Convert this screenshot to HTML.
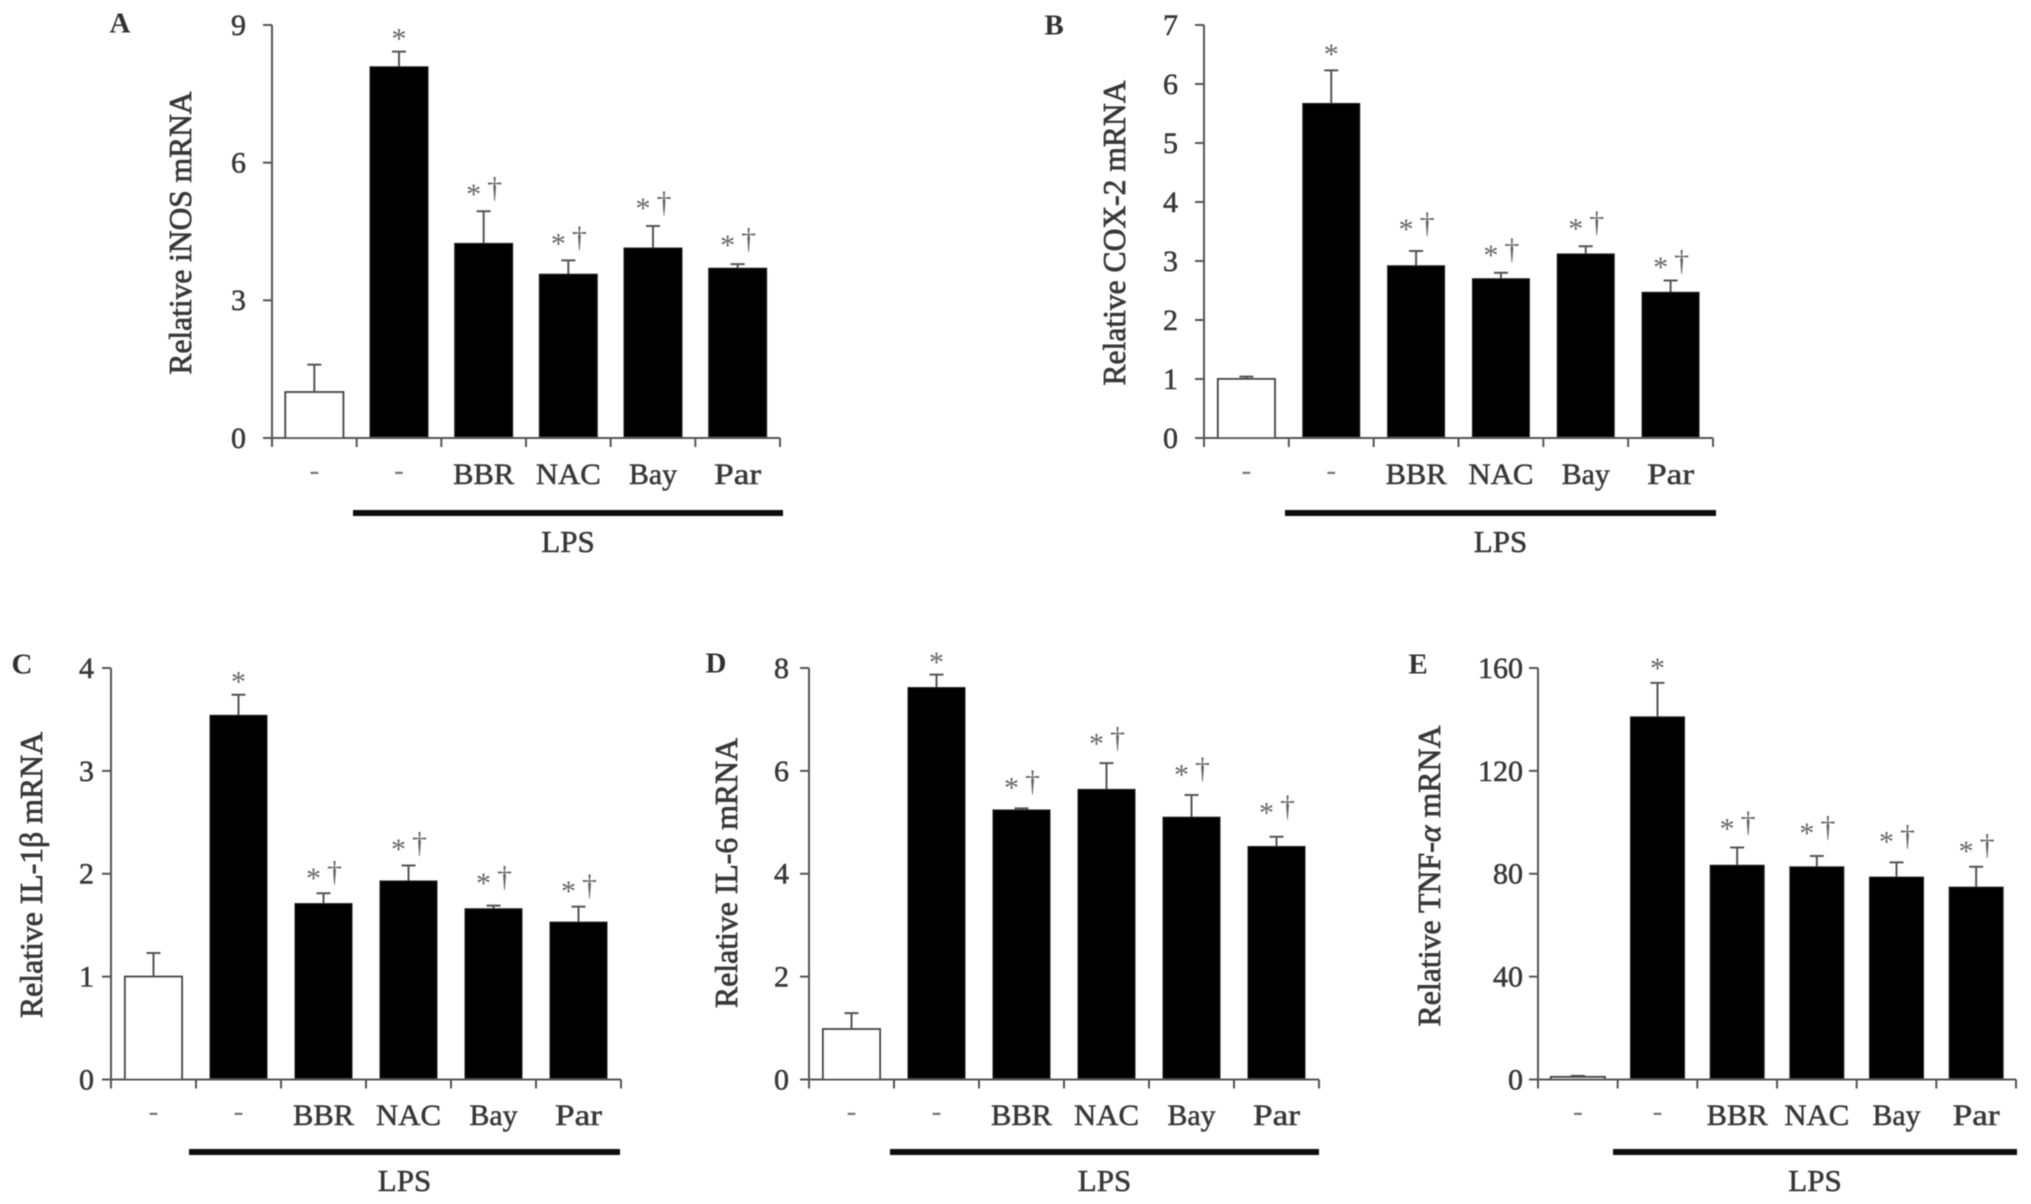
<!DOCTYPE html>
<html lang="en">
<head>
<meta charset="utf-8">
<title>Relative mRNA expression panels</title>
<style>
  html, body { margin: 0; padding: 0; background: #fff; }
  #figure { display: block; width: 2031px; height: 1204px; }
  text { font-family: "Liberation Serif", "DejaVu Serif", serif; }
</style>
</head>
<body>
<svg id="figure" xmlns="http://www.w3.org/2000/svg" width="2031" height="1204" viewBox="0 0 2031 1204">
  <defs>
    <filter id="soft" x="0" y="0" width="100%" height="100%" filterUnits="userSpaceOnUse" primitiveUnits="userSpaceOnUse">
      <feGaussianBlur stdDeviation="0.6"/>
    </filter>
  </defs>
  <rect x="0" y="0" width="2031" height="1204" fill="#fff"/>
  <g id="root" filter="url(#soft)"></g>
</svg>
<script>
// Shared categories
const categories = ['-', '-', 'BBR', 'NAC', 'Bay', 'Par'];
const groupLabel = 'LPS';

// Panel A: iNOS
const ticksA = [0, 3, 6, 9];
const valuesA = [1.0, 8.09, 4.24, 3.57, 4.14, 3.70];
const errorsA = [1.60, 8.42, 4.94, 3.87, 4.62, 3.79];
const marksA = [8.80, 5.41, 4.33, 5.10, 4.30];

// Panel B: COX-2
const ticksB = [0, 1, 2, 3, 4, 5, 6, 7];
const valuesB = [1.0, 5.67, 2.92, 2.70, 3.12, 2.47];
const errorsB = [1.04, 6.23, 3.17, 2.80, 3.25, 2.67];
const marksB = [6.58, 3.61, 3.17, 3.62, 2.97];

// Panel C: IL-1 beta
const ticksC = [0, 1, 2, 3, 4];
const valuesC = [1.0, 3.54, 1.71, 1.93, 1.66, 1.53];
const errorsC = [1.23, 3.74, 1.81, 2.08, 1.69, 1.68];
const marksC = [3.91, 2.00, 2.28, 1.95, 1.87];

// Panel D: IL-6
const ticksD = [0, 2, 4, 6, 8];
const valuesD = [0.98, 7.62, 5.24, 5.64, 5.10, 4.53];
const errorsD = [1.29, 7.87, 5.27, 6.15, 5.53, 4.72];
const marksD = [8.2, 5.76, 6.61, 6.01, 5.27];

// Panel E: TNF-alpha
const ticksE = [0, 40, 80, 120, 160];
const valuesE = [1.0, 141.0, 83.3, 82.7, 78.7, 74.8];
const errorsE = [1.4, 154.2, 90.2, 86.9, 84.4, 82.7];
const marksE = [161.5, 99.2, 97.5, 94.1, 90.5];

// Printed width of the wider category labels in the original artwork
const labelStretch = { BBR: 61, NAC: 65, Bay: 48, Par: 47 };

const panels = [
  { id: 'a', letter: 'A', ticks: ticksA, values: valuesA, errors: errorsA, marks: marksA,
    left: 272, right: 780, top: 25, base: 438, barW: 58, labelGap: 26,
    letterX: 120, letterY: 23, titleX: 191, titleY: 233, titleLen: 283,
    lpsL: 353, lpsR: 783, catY: 474, lpsY: 513, groupY: 542,
    title: ['Relative iNOS mRNA'] },
  { id: 'b', letter: 'B', ticks: ticksB, values: valuesB, errors: errorsB, marks: marksB,
    left: 1204, right: 1713, top: 25, base: 438, barW: 57, labelGap: 26,
    letterX: 1054, letterY: 25, titleX: 1125, titleY: 233, titleLen: 305,
    lpsL: 1285, lpsR: 1716, catY: 474, lpsY: 513, groupY: 542,
    title: ['Relative COX-2 mRNA'] },
  { id: 'c', letter: 'C', ticks: ticksC, values: valuesC, errors: errorsC, marks: marksC,
    left: 111, right: 621, top: 668, base: 1079.5, barW: 57, labelGap: 17,
    letterX: 22, letterY: 664, titleX: 42, titleY: 875, titleLen: 286,
    lpsL: 189, lpsR: 620, catY: 1115, lpsY: 1152, groupY: 1181,
    title: ['Relative IL-1\u03b2 mRNA'] },
  { id: 'd', letter: 'D', ticks: ticksD, values: valuesD, errors: errorsD, marks: marksD,
    left: 809, right: 1319, top: 668, base: 1079.5, barW: 57, labelGap: 20,
    letterX: 716, letterY: 663, titleX: 737, titleY: 873, titleLen: 270,
    lpsL: 890, lpsR: 1319, catY: 1115, lpsY: 1152, groupY: 1181,
    title: ['Relative IL-6 mRNA'] },
  { id: 'e', letter: 'E', ticks: ticksE, values: valuesE, errors: errorsE, marks: marksE,
    left: 1538, right: 2016, top: 668, base: 1079.5, barW: 54, labelGap: 15,
    letterX: 1418, letterY: 664, titleX: 1440, titleY: 876, titleLen: 301,
    lpsL: 1613, lpsR: 2017, catY: 1115, lpsY: 1152, groupY: 1181,
    title: ['Relative TNF-', '\u03b1', ' mRNA'] }
];

const NS = 'http://www.w3.org/2000/svg';
const AXIS = '#555';
const INK = '#383838';
const FS = 30;
const INK_WEIGHT = 0.55;

function shape(tag, parent, attrs) {
  const node = document.createElementNS(NS, tag);
  Object.keys(attrs).forEach(function (k) { node.setAttribute(k, attrs[k]); });
  parent.appendChild(node);
  return node;
}
function label(parent, str, x, centerY, anchor, size, fill, lift) {
  const node = shape('text', parent, {
    x: x, y: centerY + lift * size, 'text-anchor': anchor, 'font-size': size, fill: fill
  });
  node.textContent = str;
  return node;
}
function thicken(node) {
  node.setAttribute('stroke', INK);
  node.setAttribute('stroke-width', INK_WEIGHT);
}

const root = document.getElementById('root');

panels.forEach(function (p) {
  const yMax = p.ticks[p.ticks.length - 1];
  const yOf = function (v) { return p.base - (v / yMax) * (p.base - p.top); };
  const step = (p.right - p.left) / categories.length;
  const xMid = function (i) { return p.left + step * (i + 0.5); };

  const g = shape('g', root, {});
  
  

  const letter = label(g, p.letter, p.letterX, p.letterY, 'middle', 29, '#333', 0.33);
  letter.setAttribute('font-weight', 'bold');
  
  

  const title = shape('text', g, {
    x: 0, y: 0, 'text-anchor': 'middle', 'font-size': 32, fill: INK,
    transform: 'translate(' + p.titleX + ' ' + p.titleY + ') rotate(-90)',
    textLength: p.titleLen, lengthAdjust: 'spacingAndGlyphs',
    stroke: INK, 'stroke-width': 0.75
  });
  
  
  p.title.forEach(function (part, i) {
    const span = shape('tspan', title, {});
    if (i === 1) span.setAttribute('font-style', 'italic');
    span.textContent = part;
  });

  // Bars and error bars
  categories.forEach(function (cat, i) {
    const cx = xMid(i);
    const err = shape('path', g, {
      d: 'M' + cx + ' ' + yOf(p.values[i]) + 'V' + yOf(p.errors[i]) +
         'M' + (cx - 7) + ' ' + yOf(p.errors[i]) + 'H' + (cx + 7),
      stroke: AXIS, 'stroke-width': 2, fill: 'none'
    });
    
    

    const bar = shape('rect', g, {
      x: cx - p.barW / 2, y: yOf(p.values[i]), width: p.barW,
      height: p.base - yOf(p.values[i]),
      fill: i === 0 ? '#fff' : '#000',
      stroke: i === 0 ? '#444' : '#222', 'stroke-width': i === 0 ? 2 : 1
    });
    
    

    const cl = label(g, cat, cx, p.catY, 'middle', FS, cat === '-' ? '#777' : INK, cat === '-' ? 0.2 : 0.33);
    if (labelStretch[cat]) {
      cl.setAttribute('textLength', labelStretch[cat]);
      cl.setAttribute('lengthAdjust', 'spacingAndGlyphs');
      thicken(cl);
    }
    
    
  });

  // Significance marks
  p.marks.forEach(function (level, j) {
    const i = j + 1;
    const cy = yOf(level);
    const cx = j === 0 ? xMid(i) : xMid(i) - 10;
    const star = label(g, '*', cx, cy, 'middle', FS, '#666', 0.47);
    
    
    if (j > 0) {
      const dagger = label(g, '\u2020', xMid(i) + 11, cy, 'middle', FS, '#666', 0.26);
      
      
    }
  });

  // Y axis with ticks and labels
  const yAxis = shape('line', g, {
    x1: p.left, x2: p.left, y1: p.top, y2: p.base + 9, stroke: AXIS, 'stroke-width': 2
  });
  
  

  p.ticks.forEach(function (t) {
    const tick = shape('line', g, {
      x1: p.left - 9, x2: p.left, y1: yOf(t), y2: yOf(t), stroke: AXIS, 'stroke-width': 2
    });
    
    

    const tl = label(g, String(t), p.left - p.labelGap, yOf(t), 'end', FS, INK, 0.33);
    thicken(tl);
    
    
  });

  // X axis with ticks
  const xAxis = shape('line', g, {
    x1: p.left, x2: p.right, y1: p.base, y2: p.base, stroke: AXIS, 'stroke-width': 2
  });
  
  

  for (let k = 1; k <= categories.length; k++) {
    const xt = shape('line', g, {
      x1: p.left + step * k, x2: p.left + step * k, y1: p.base, y2: p.base + 9,
      stroke: AXIS, 'stroke-width': 2
    });
    
    
  }

  // LPS bracket
  const lps = shape('rect', g, {
    x: p.lpsL, y: p.lpsY - 3, width: p.lpsR - p.lpsL, height: 6, fill: '#111'
  });
  
  

  const lpsText = label(g, groupLabel, (p.lpsL + p.lpsR) / 2, p.groupY, 'middle', 31, INK, 0.33);
  thicken(lpsText);
  
  
});
</script>
</body>
</html>
